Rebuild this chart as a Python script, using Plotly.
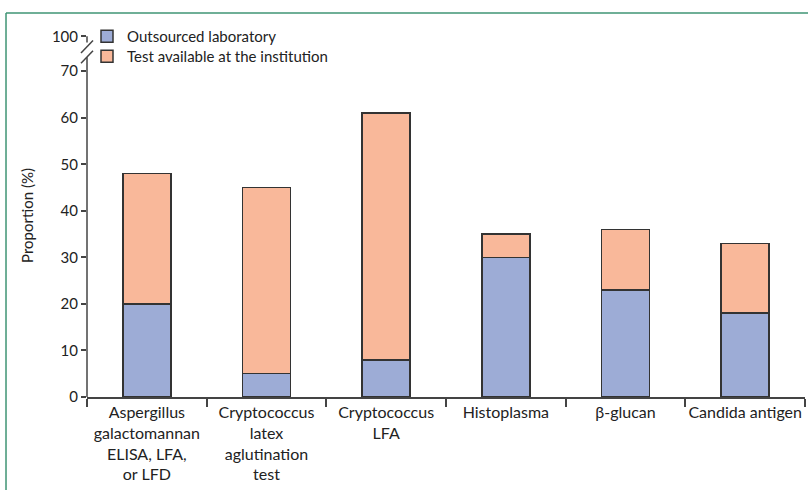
import plotly.graph_objects as go

categories = [
    "Aspergillus<br>galactomannan<br>ELISA, LFA,<br>or LFD",
    "Cryptococcus<br>latex<br>aglutination<br>test",
    "Cryptococcus<br>LFA",
    "Histoplasma",
    "β-glucan",
    "Candida antigen",
]
outsourced = [20, 5, 8, 30, 23, 18]
institution = [28, 40, 53, 5, 13, 15]

y_tickvals = [0, 10, 20, 30, 40, 50, 60, 70, 77.5]
y_ticktext = ["0", "10", "20", "30", "40", "50", "60", "70", "100"]

BLUE = "#9dacd6"
ORANGE = "#f9b89a"
EDGE = "#333333"
AX = "#444444"
FONT = "Lato"
TXT = "#222222"

fig = go.Figure()
fig.add_trace(go.Bar(x=categories, y=outsourced, name="Outsourced laboratory",
                     marker=dict(color=BLUE, line=dict(color=EDGE, width=1.5)), width=0.4,
                     legend="legend"))
fig.add_trace(go.Bar(x=categories, y=institution, name="Test available at the institution",
                     marker=dict(color=ORANGE, line=dict(color=EDGE, width=1.5)), width=0.4,
                     legend="legend2"))

shapes = []
line = dict(color=AX, width=1.5)
shapes.append(dict(type="line", xref="paper", yref="y", x0=0, x1=0, y0=0, y1=73, line=line))
shapes.append(dict(type="line", xref="paper", yref="y", x0=0, x1=0, y0=76.2, y1=77.5, line=line))
for (ya, yb) in [(73.9, 76.6), (71.7, 74.4)]:
    shapes.append(dict(type="line", xref="paper", xsizemode="pixel", xanchor=0,
                       x0=-6, x1=6, yref="y", y0=ya, y1=yb, line=line))
green = dict(color="#3f9474", width=1.5)
shapes.append(dict(type="line", xref="paper", yref="paper", x0=-0.1128, x1=1.2,
                   y0=1.0579, y1=1.0579, line=green))
shapes.append(dict(type="line", xref="paper", yref="paper", x0=-0.1128, x1=-0.1128,
                   y0=-0.5, y1=1.0579, line=green))

leg_common = dict(x=0.0, xanchor="left", yanchor="top", bgcolor="rgba(0,0,0,0)",
                  font=dict(size=15, color=TXT), itemwidth=30)

fig.update_layout(
    barmode="stack",
    width=808, height=490,
    margin=dict(l=87, r=3, t=34, b=93, autoexpand=False),
    paper_bgcolor="white", plot_bgcolor="white",
    font=dict(family=FONT, size=15, color=TXT),
    showlegend=True,
    legend=dict(y=1.0386, **leg_common),
    legend2=dict(y=0.9835, **leg_common),
    shapes=shapes,
    xaxis=dict(showline=True, linecolor=AX, linewidth=1.5, ticks="outside", ticklen=8,
               tickwidth=1.5, tickcolor=AX, tickson="boundaries", showgrid=False,
               range=[-0.5, 5.5], fixedrange=True, automargin=False, tickangle=0,
               tickfont=dict(size=16, color=TXT)),
    yaxis=dict(range=[0, 78], tickvals=y_tickvals, ticktext=y_ticktext, showline=False,
               ticks="outside", ticklen=5, tickwidth=1.5, tickcolor=AX, showgrid=False,
               zeroline=False, automargin=False, tickfont=dict(size=15, color=TXT),
               title=dict(text="Proportion (%)", standoff=14, font=dict(size=15, color=TXT))),
)

fig.write_html("out.html", config={"displayModeBar": False},
               post_script="document.body.style.margin='0';document.body.style.padding='0';")
